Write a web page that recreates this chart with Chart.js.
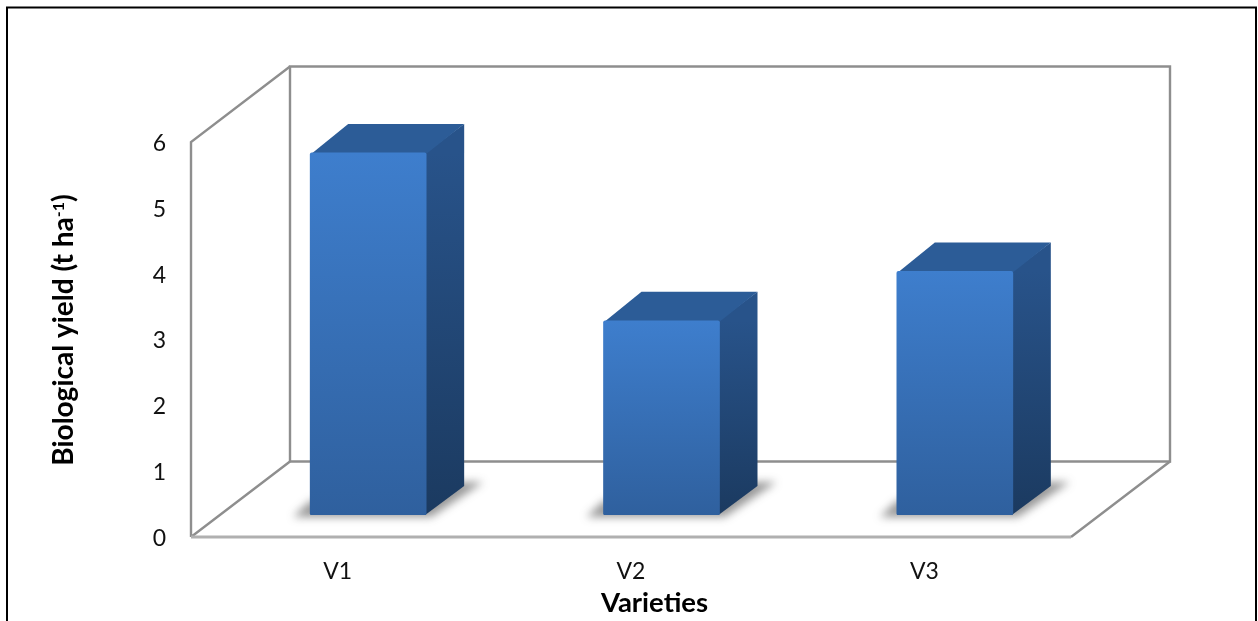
<!DOCTYPE html>
<html>
<head>
<meta charset="utf-8">
<style>html,body{margin:0;padding:0;background:#fff}#wrap{width:1258px;height:621px}</style>
<script src="https://cdn.jsdelivr.net/npm/chart.js@4"></script>
</head>
<body>
<div id="wrap"><canvas id="c" width="1258" height="621"></canvas></div>
<script>
const categories = ['V1', 'V2', 'V3'];
const biologicalYield = [5.5, 2.95, 3.7];
const yTicks = [0, 1, 2, 3, 4, 5, 6];
const yTitleMain = 'Biological yield (t ha';
const yTitleSup = '-1';
const yTitleEnd = ')';
const xTitle = 'Varieties';

// Oblique projection used for the box: walls, floor and bar depth
const WALL = { dx: 99, dy: -75.5 };
const BAR_SHIFT = { dx: 30.5, dy: -22 };
const BAR_DEPTH = { dx: 38, dy: -29 };
const FONT = 'Lato, "Open Sans", sans-serif';

function poly(ctx, pts) {
  ctx.beginPath();
  pts.forEach((p, i) => i ? ctx.lineTo(p[0], p[1]) : ctx.moveTo(p[0], p[1]));
  ctx.closePath();
}

function vGrad(ctx, top, bottom, c0, c1) {
  const g = ctx.createLinearGradient(0, top, 0, bottom);
  g.addColorStop(0, c0);
  g.addColorStop(1, c1);
  return g;
}

const box3d = {
  id: 'box3d',
  // Walls and floor sit behind the bars
  beforeDatasetsDraw(chart) {
    const { ctx, chartArea: a } = chart;
    const L = a.left, R = a.right, T = a.top, B = a.bottom;
    const bx = WALL.dx, by = WALL.dy;
    ctx.save();
    ctx.lineJoin = 'miter';
    ctx.strokeStyle = '#8e8e8e';
    ctx.lineWidth = 2.4;
    poly(ctx, [[L + bx, T + by], [R + bx, T + by], [R + bx, B + by], [L + bx, B + by]]);
    ctx.stroke();
    ctx.beginPath();
    ctx.moveTo(L, B); ctx.lineTo(L, T); ctx.lineTo(L + bx, T + by);
    ctx.moveTo(L, B); ctx.lineTo(L + bx, B + by);
    ctx.moveTo(R, B); ctx.lineTo(R + bx, B + by);
    ctx.stroke();
    ctx.strokeStyle = '#b0b0b0';
    ctx.lineWidth = 3;
    ctx.beginPath();
    ctx.moveTo(L, B); ctx.lineTo(R, B);
    ctx.stroke();
    ctx.restore();
  },
  // Cast shadow, side and top faces are built from each bar element; the
  // library then paints the front face in the shifted frame
  beforeDatasetDraw(chart, args) {
    const { ctx } = chart;
    const meta = chart.getDatasetMeta(args.index);
    ctx.save();
    ctx.translate(BAR_SHIFT.dx, BAR_SHIFT.dy);
    meta.data.forEach(bar => {
      const x0 = bar.x - bar.width / 2, x1 = bar.x + bar.width / 2;
      const top = bar.y, base = bar.base;
      const d = BAR_DEPTH;
      ctx.save();
      ctx.filter = 'blur(4px)';
      ctx.fillStyle = 'rgba(50,50,50,0.5)';
      poly(ctx, [[x0 - 17, base + 2], [x1 + 5, base + 2], [x1 + d.dx + 19, base + d.dy - 4],
                 [x1 + d.dx, base + d.dy - 4], [x0, base - 14]]);
      ctx.fill();
      ctx.restore();

      ctx.fillStyle = vGrad(ctx, top, base, '#28538a', '#1b3a60');
      poly(ctx, [[x1 - 1, top], [x1 + d.dx, top + d.dy], [x1 + d.dx, base + d.dy], [x1 - 1, base]]);
      ctx.fill();

      ctx.fillStyle = '#2c5c97';
      poly(ctx, [[x0 + 1, top + 1], [x0 + d.dx, top + d.dy], [x1 + d.dx, top + d.dy], [x1, top + 1]]);
      ctx.fill();
    });
  },
  afterDatasetDraw(chart) {
    chart.ctx.restore();
  },
  afterDraw(chart) {
    const { ctx, chartArea: a } = chart;
    ctx.save();
    ctx.fillStyle = '#000';
    ctx.textBaseline = 'alphabetic';

    // X axis title
    ctx.font = 'bold 27.5px ' + FONT;
    ctx.textAlign = 'center';
    ctx.fillText(xTitle, a.left + 463.5, 612);

    // Rotated Y axis title with its superscript exponent
    ctx.save();
    ctx.translate(73, 330);
    ctx.rotate(-Math.PI / 2);
    ctx.textAlign = 'left';
    const mainFont = 'bold 28px ' + FONT, supFont = 'bold 16px ' + FONT;
    ctx.font = mainFont;
    const w1 = ctx.measureText(yTitleMain).width, w3 = ctx.measureText(yTitleEnd).width;
    ctx.font = supFont;
    const w2 = ctx.measureText(yTitleSup).width;
    let x = -(w1 + w2 + w3) / 2;
    ctx.font = mainFont;
    ctx.fillText(yTitleMain, x, 0);
    x += w1;
    ctx.font = supFont;
    ctx.fillText(yTitleSup, x, -9);
    x += w2;
    ctx.font = mainFont;
    ctx.fillText(yTitleEnd, x, 0);
    ctx.restore();

    // Outer frame; the lower edge runs off the page
    ctx.strokeStyle = '#000';
    ctx.lineWidth = 2;
    ctx.beginPath();
    ctx.moveTo(7, 621); ctx.lineTo(7, 7.5); ctx.lineTo(1256, 7.5); ctx.lineTo(1256, 621);
    ctx.stroke();
    ctx.restore();
  }
};

new Chart(document.getElementById('c'), {
  type: 'bar',
  data: {
    labels: categories,
    datasets: [{
      label: 'Biological yield',
      data: biologicalYield,
      barThickness: 116,
      borderRadius: 2,
      borderSkipped: false,
      backgroundColor(ctx) {
        const y = ctx.chart.scales.y;
        const v = ctx.raw === undefined ? y && y.max : ctx.raw;
        const top = y ? y.getPixelForValue(v) : NaN, base = y ? y.getPixelForValue(0) : NaN;
        if (!Number.isFinite(top) || !Number.isFinite(base)) return '#3e7ecd';
        const g = ctx.chart.ctx.createLinearGradient(0, top, 0, base);
        g.addColorStop(0, '#3e7ecd');
        g.addColorStop(1, '#2f609e');
        return g;
      }
    }]
  },
  options: {
    responsive: false,
    animation: false,
    layout: { padding: { left: 0, right: 187, top: 142, bottom: 0 } },
    plugins: { legend: { display: false }, tooltip: { enabled: false } },
    scales: {
      x: {
        grid: { display: false, drawTicks: false },
        border: { display: false },
        ticks: { color: '#111', font: { family: FONT, size: 23 }, padding: 21, maxRotation: 0 },
        afterFit(s) { s.height = 84; }
      },
      y: {
        min: yTicks[0],
        max: yTicks[yTicks.length - 1],
        grid: { display: false, drawTicks: false },
        border: { display: false },
        afterBuildTicks(s) { s.ticks = yTicks.map(value => ({ value })); },
        ticks: { color: '#111', font: { family: FONT, size: 23 }, padding: 25, labelOffset: 1.5 },
        afterFit(s) { s.width = 191; }
      }
    }
  },
  plugins: [box3d]
});
</script>
</body>
</html>
